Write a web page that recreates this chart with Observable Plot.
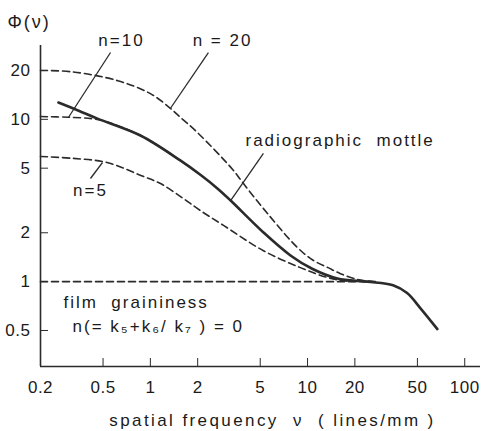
<!DOCTYPE html>
<html><head><meta charset="utf-8">
<script src="https://cdn.jsdelivr.net/npm/d3@7"></script>
<script src="https://cdn.jsdelivr.net/npm/@observablehq/plot@0.6"></script>
<style>
body{margin:0;background:#fff;}
#chart svg{display:block;}
.sp text{letter-spacing:2px;}
.xl text{letter-spacing:2.4px;}
.tk text{letter-spacing:0.5px;}
</style></head><body><div id="chart"></div>
<script>
// axis ticks
const xTicks = [0.2, 0.5, 1, 2, 5, 10, 20, 50, 100];
const yTicks = [0.5, 1, 2, 5, 10, 20];
const xDomain = [0.2, 126];
const yDomain = [0.3, 28.5];

// series: [spatial frequency, Phi]
const filmGrain = [[0.2, 1], [25, 1]];                     // n = 0
const n5 = [[0.2, 5.9], [0.32, 5.75], [0.53, 5.42], [0.87, 4.51], [1.16, 4.02], [1.62, 3.25], [2.08, 2.74], [2.92, 2.22], [5.24, 1.55], [9.0, 1.22], [13.4, 1.06], [17.4, 1.01], [25, 1.0]];
const n10 = [[0.2, 10.4], [0.3, 10.3], [0.42, 10.1], [0.5, 9.8], [0.865, 7.95], [1.55, 5.58], [2.08, 4.55]];
const n20 = [[0.2, 20], [0.32, 19.6], [0.62, 17.3], [1.0, 14.4], [1.34, 11.7], [1.55, 10.3], [1.99, 8.3], [3.38, 4.84], [3.91, 4.02], [5.56, 2.63], [8.63, 1.62], [10.9, 1.35], [13.5, 1.22], [16.2, 1.12], [20.8, 1.03], [27, 1.0]];
const mottle = [[0.26, 12.7], [0.35, 11.3], [0.461, 10.1], [0.865, 7.95], [1.55, 5.58], [2.08, 4.55], [2.67, 3.75], [3.24, 3.16], [5.24, 2.01], [7.79, 1.45], [10.7, 1.2], [15.5, 1.045], [24, 1.0], [35, 0.95], [43, 0.85], [52, 0.69], [67, 0.51]];

// annotations (data coordinates)
const curveLabels = ["n=10", "n = 20", "n=5"];
const curveLabelX = [0.655, 2.88, 0.416];
const curveLabelY = [30.6, 30.6, 3.64];
const noteLabels = ["radiographic\u00a0 mottle", "film\u00a0 graininess", "n(= k\u2085+k\u2086/ k\u2087 ) = 0"];
const noteLabelX = [4.03, 0.28, 0.32];
const noteLabelY = [7.41, 0.744, 0.529];
const leaders = [
  [0.558, 25.8, 0.301, 10.26],
  [2.34, 25.8, 1.34, 11.66],
  [0.416, 4.32, 0.496, 5.42],
  [5.24, 6.16, 3.24, 3.16]
];

const ink = "#2b2b2b";
const lineOpts = {x: d => d[0], y: d => d[1], curve: "catmull-rom", stroke: ink};
const dashed = {...lineOpts, strokeWidth: 1.6, strokeDasharray: "7,4"};

const chart = Plot.plot({
  width: 490, height: 431,
  marginLeft: 40, marginRight: 10, marginTop: 45, marginBottom: 65,
  x: {type: "log", domain: xDomain},
  y: {type: "log", domain: yDomain},
  style: {fontFamily: "'Liberation Sans', Arial, sans-serif", fontSize: "17px", color: "#1a1a1a", background: "#fff"},
  marks: [
    Plot.ruleY([yDomain[0]], {stroke: ink, strokeWidth: 1.6}),
    Plot.ruleX([xDomain[0]], {stroke: ink, strokeWidth: 1.6}),
    Plot.axisX({ticks: xTicks, tickSize: -8, tickFormat: () => "", label: null, stroke: ink}),
    Plot.axisY({ticks: yTicks, tickSize: -8, tickFormat: () => "", label: null, stroke: ink}),
    Plot.text(xTicks, {x: d => d, frameAnchor: "bottom", lineAnchor: "middle", dy: 21, text: d => String(d), fill: "#1a1a1a", className: "tk"}),
    Plot.text(yTicks, {y: d => d, frameAnchor: "left", textAnchor: "end", dx: -10, text: d => String(d), fill: "#1a1a1a", className: "tk"}),
    Plot.line(filmGrain, dashed),
    Plot.line(n5, dashed),
    Plot.line(n10, dashed),
    Plot.line(n20, dashed),
    Plot.line(mottle, {...lineOpts, strokeWidth: 2.6}),
    Plot.link(leaders, {x1: d => d[0], y1: d => d[1], x2: d => d[2], y2: d => d[3], stroke: ink, strokeWidth: 1.3}),
    Plot.text(curveLabels, {x: (d, i) => curveLabelX[i], y: (d, i) => curveLabelY[i], text: d => d, textAnchor: "middle", fill: "#1a1a1a", className: "sp"}),
    Plot.text(noteLabels, {x: (d, i) => noteLabelX[i], y: (d, i) => noteLabelY[i], text: d => d, textAnchor: "start", fill: "#1a1a1a", className: "sp"}),
    Plot.text(["\u03A6(\u03BD)"], {frameAnchor: "top-left", lineAnchor: "middle", textAnchor: "start", dx: -33, dy: -23, fontSize: 18, fill: "#1a1a1a", className: "sp"}),
    Plot.text(["spatial frequency \u00a0\u03BD\u00a0 ( lines/mm )"], {frameAnchor: "bottom", lineAnchor: "middle", dx: 12, dy: 54, fill: "#1a1a1a", className: "xl"})
  ]
});
document.getElementById("chart").appendChild(chart);
</script></body></html>
